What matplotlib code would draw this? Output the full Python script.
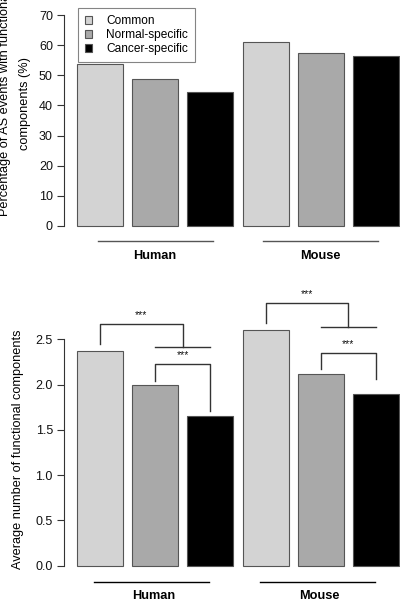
import matplotlib
matplotlib.use("Agg")
import matplotlib.pyplot as plt
from matplotlib.patches import Patch

plt.rcParams['font.family'] = ['Liberation Sans', 'DejaVu Sans']

# ---- data ----
species = ["Human", "Mouse"]
categories = ["Common", "Normal-specific", "Cancer-specific"]
pct_functional = [[53.7, 48.7, 44.3], [60.9, 57.5, 56.3]]
avg_components = [[2.375, 1.99, 1.65], [2.60, 2.12, 1.90]]
colors = ["#d3d3d3", "#a9a9a9", "#000000"]
top_ticks = [0, 10, 20, 30, 40, 50, 60, 70]
bottom_ticks = [0.0, 0.5, 1.0, 1.5, 2.0, 2.5]
bottom_ticklabels = ["0.0", "0.5", "1.0", "1.5", "2.0", "2.5"]
sig_stars = ["***", "***", "***", "***"]

W, H = 400, 600
fig = plt.figure(figsize=(4, 6), dpi=100)

def px_axes(left, top, right, bottom):
    return [left / W, 1 - bottom / H, (right - left) / W, (bottom - top) / H]

# bar positions like R barplot(space=0.2)
xpos = []
vals_top, vals_bot, cols = [], [], []
for g in range(len(species)):
    for c in range(len(categories)):
        i = g * 3 + c
        xpos.append(0.7 + 1.2 * i)
        vals_top.append(pct_functional[g][c])
        vals_bot.append(avg_components[g][c])
        cols.append(colors[c])
group_centers = [sum(xpos[g*3:g*3+3]) / 3 for g in range(len(species))]

TICK_FS = 9
LAB_FS = 9.2

def style_axes(ax, ticks, labels=None):
    ax.set_xlim(-0.08, 7.48)
    for s in ["top", "right", "bottom"]:
        ax.spines[s].set_visible(False)
    ax.spines["left"].set_bounds(ticks[0], ticks[-1])
    ax.spines["left"].set_linewidth(0.8)
    ax.spines["left"].set_color("#333333")
    ax.set_xticks([])
    ax.set_yticks(ticks)
    if labels is not None:
        ax.set_yticklabels(labels)
    ax.tick_params(axis="y", length=5, width=0.8, pad=3, labelsize=TICK_FS,
                   color="#333333", labelcolor="#111111")

# ---- top panel ----
ax1 = fig.add_axes(px_axes(64, 15, 412, 226))
bars = ax1.bar(xpos, vals_top, width=1.0, color=cols, edgecolor="#555555", linewidth=0.8)
for b in bars:
    b.set_clip_on(False)
ax1.set_ylim(0, 70)
style_axes(ax1, top_ticks)
for g, name in enumerate(species):
    c = group_centers[g]
    ax1.plot([c - 1.25, c + 1.25], [-5.1, -5.1], color="#555555", lw=1.0, clip_on=False)
    ax1.text(c, -9.9, name, ha="center", va="center", fontsize=LAB_FS, fontweight="bold")

handles = [Patch(facecolor=colors[i], edgecolor="#555555", linewidth=0.8) for i in range(3)]
leg = ax1.legend(handles, categories, loc="upper left",
                 bbox_to_anchor=(77.5 / W, 1 - 8.3 / H), bbox_transform=fig.transFigure,
                 fontsize=8.6, frameon=True, fancybox=False, edgecolor="#666666",
                 handlelength=0.6, handleheight=0.6, handletextpad=1.2,
                 borderpad=0.6, labelspacing=0.15, borderaxespad=0)
leg.get_frame().set_linewidth(0.8)

fig.text(5 / W, 1 - 103 / H, "Percentage of AS events with functional", rotation=90,
         ha="center", va="center", fontsize=LAB_FS)
fig.text(25 / W, 1 - 103 / H, "components (%)", rotation=90,
         ha="center", va="center", fontsize=LAB_FS)

# ---- bottom panel ----
ax2 = fig.add_axes(px_axes(64, 339.3, 412, 565.7))
bars = ax2.bar(xpos, vals_bot, width=1.0, color=cols, edgecolor="#555555", linewidth=0.8)
for b in bars:
    b.set_clip_on(False)
ax2.set_ylim(0, 2.5)
style_axes(ax2, bottom_ticks, bottom_ticklabels)
for g, name in enumerate(species):
    c = group_centers[g] - 0.08
    ax2.plot([c - 1.25, c + 1.25], [-0.177, -0.177], color="#000000", lw=1.0, clip_on=False)
    ax2.text(c + 0.04, -0.335, name, ha="center", va="center", fontsize=LAB_FS, fontweight="bold")

fig.text(18 / W, 1 - 449 / H, "Average number of functional components", rotation=90,
         ha="center", va="center", fontsize=LAB_FS)

# brackets
bcol = "#333333"
blw = 1.0
big_heights = [(2.449, 2.67, 2.416), (2.681, 2.902, 2.637)]
small_heights = [(2.04, 2.228, 1.709), (2.173, 2.35, 2.062)]
for g in range(len(species)):
    xc, xn, xk = xpos[g*3], xpos[g*3+1], xpos[g*3+2]
    mid = (xn + xk) / 2
    l, t, r = big_heights[g]
    ax2.plot([xc, xc, mid, mid], [l, t, t, r], color=bcol, lw=blw, clip_on=False)
    ax2.plot([xn, xk], [r, r], color=bcol, lw=blw, clip_on=False)
    ax2.text((xc + mid) / 2, t + 0.04, sig_stars[g*2], ha="center", va="bottom",
             fontsize=7.5, color="#111111")
    l, t, r = small_heights[g]
    ax2.plot([xn, xn, xk, xk], [l, t, t, r], color=bcol, lw=blw, clip_on=False)
    ax2.text(mid, t + 0.04, sig_stars[g*2+1], ha="center", va="bottom",
             fontsize=7.5, color="#111111")

fig.savefig("out.png", dpi=100)
